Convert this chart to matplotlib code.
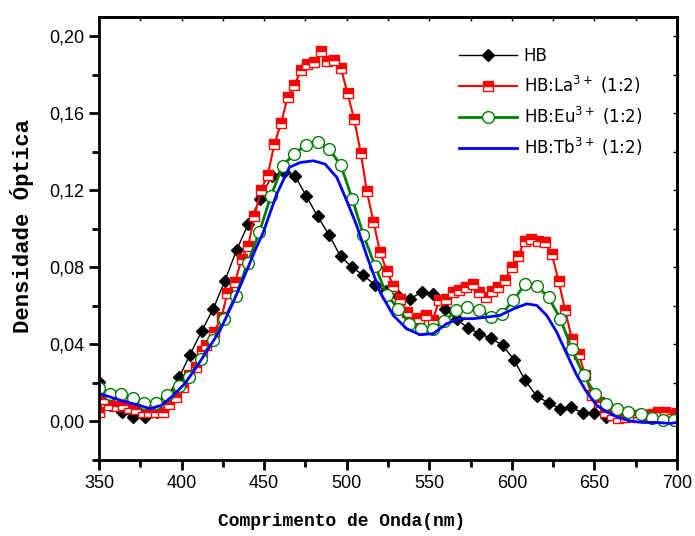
import matplotlib
matplotlib.use("Agg")
from matplotlib import pyplot as plt
from matplotlib.ticker import MultipleLocator, FuncFormatter

# HB (black diamonds)
hb_x = [350, 356.6, 363.7, 370.8, 377.9, 385, 391.4, 398.6, 405.1, 412.1, 419.2, 426.3,
        433.3, 440.4, 447.5, 454.6, 462.2, 468.7, 475.4, 482.4, 489.3, 496.3, 503.4,
        510, 517, 524, 531, 538.4, 545.4, 552.1, 559.6, 566.6, 573.3, 580.2, 587.2,
        594.4, 601.3, 608, 615.1, 622.2, 629.2, 635.9, 643, 650, 657.1]
hb_y = [0.0206, 0.0085, 0.005, 0.0024, 0.0024, 0.005, 0.0128, 0.023, 0.0347, 0.0468,
        0.0585, 0.0732, 0.0890, 0.1026, 0.1155, 0.1276, 0.1297, 0.1276, 0.1173, 0.1065,
        0.0969, 0.0857, 0.080, 0.076, 0.071, 0.068, 0.065, 0.0637, 0.0672, 0.066,
        0.0585, 0.053, 0.0487, 0.0456, 0.0434, 0.0395, 0.0321, 0.0214, 0.0131, 0.0097,
        0.0067, 0.0073, 0.0045, 0.0045, 0.0024]

# HB:La (red half-filled squares)
la_x = [350, 352.6, 356.2, 360.7, 364.5, 368.3, 372.4, 376.4, 380.4, 384.5, 388.5,
        392.6, 396.6, 400.6, 404.7, 408.7, 412.1, 415.1, 419.6, 424.3, 427.7, 432.4,
        436.4, 440.4, 444.1, 448.1, 452.2, 456.2, 460.2, 464.3, 468.3, 472.3, 475.8,
        480.4, 484.5, 488.3, 492.4, 496.4, 500.5, 504.5, 508.6, 512.2, 516.2, 520.2,
        524.2, 528.2, 532.3, 536.3, 540.3, 544, 548, 552.1, 556.1, 560.2, 564.2, 568.3,
        572.3, 576.3, 580.4, 584.4, 588, 591.9, 595.9, 600, 604, 607.7, 611.7, 615.7,
        619.8, 624.2, 628.3, 632.3, 636.3, 640.4, 644.4, 648.4, 652.5, 656.5, 660.5,
        664.5, 668.6, 672.6, 676.6, 680.7, 684.7, 688.7, 692.8, 696.8, 700]
la_y = [0.005, 0.0116, 0.0088, 0.0081, 0.0085, 0.0071, 0.0065, 0.005, 0.005, 0.005,
        0.0047, 0.0093, 0.0128, 0.018, 0.024, 0.0283, 0.0364, 0.0395, 0.0464, 0.0542,
        0.0668, 0.0724, 0.0845, 0.0914, 0.1066, 0.1202, 0.1281, 0.144, 0.1548, 0.1686,
        0.1746, 0.1825, 0.1855, 0.1867, 0.1924, 0.1872, 0.1876, 0.1838, 0.1705, 0.157,
        0.1392, 0.1195, 0.1038, 0.0879, 0.0784, 0.0706, 0.0637, 0.0568, 0.0534, 0.0537,
        0.0551, 0.0528, 0.0629, 0.0637, 0.0672, 0.0684, 0.0698, 0.0715, 0.0672, 0.0646,
        0.068, 0.0701, 0.0736, 0.080, 0.0862, 0.0939, 0.0948, 0.0939, 0.0934, 0.087,
        0.0729, 0.0577, 0.043, 0.0352, 0.024, 0.0136, 0.0102, 0.005, 0.0036, 0.0016,
        0.0024, 0.0033, 0.0024, 0.0033, 0.0041, 0.005, 0.005, 0.0041, 0.0045]

# HB:Eu (green open circles)
eu_x = [350, 356.6, 363.3, 370.4, 377.5, 384.5, 391.4, 398.5, 404.5, 411.8, 418.8,
        425.9, 433, 440, 447.1, 454, 461.2, 468.1, 475.2, 482.4, 489.3, 496.4, 503.4,
        510.1, 517.1, 524.2, 531.3, 538, 545, 552.1, 559.2, 566.3, 573.1, 580.2, 587.3,
        593.9, 601, 608, 615.1, 622.2, 629.3, 636.3, 643.4, 650.4, 657.1, 663.9, 670.6,
        678.3, 685.1, 691.8, 697.9]
eu_y = [0.0175, 0.0141, 0.0141, 0.0123, 0.0097, 0.0097, 0.0136, 0.0183, 0.0232, 0.0326,
        0.0421, 0.0534, 0.0654, 0.0822, 0.0983, 0.1169, 0.1328, 0.1389, 0.1435, 0.1452,
        0.1415, 0.1332, 0.1155, 0.0969, 0.081, 0.0658, 0.0585, 0.0508, 0.0478, 0.0482,
        0.052, 0.0577, 0.0594, 0.058, 0.0542, 0.056, 0.0629, 0.0715, 0.0703, 0.0646,
        0.0534, 0.0378, 0.024, 0.0145, 0.0093, 0.0067, 0.0047, 0.0041, 0.0016, 0.0007,
        0.0007]

# HB:Tb (blue line)
tb_x = [350, 356.6, 364.7, 372.8, 380.9, 387.9, 395, 402, 409.1, 416.2, 423.3, 430.4,
        437.4, 444.5, 449.5, 457.6, 465.3, 471.7, 479.8, 486.9, 494, 500, 506.1, 512.1,
        520.2, 528.2, 536.3, 544.3, 552.4, 560.5, 568.5, 576.6, 584.7, 592.8, 601, 609,
        615.1, 621.1, 627.2, 633.2, 639.3, 645.3, 651.4, 657.5, 663.5, 671.6, 679.7,
        687.8, 695.9, 700]
tb_y = [0.0145, 0.0128, 0.0105, 0.0088, 0.0067, 0.0084, 0.0136, 0.0197, 0.0283, 0.0378,
        0.0473, 0.0603, 0.0741, 0.0888, 0.0983, 0.1181, 0.132, 0.1345, 0.1354, 0.1337,
        0.1268, 0.1147, 0.1017, 0.0862, 0.0672, 0.0551, 0.0482, 0.0451, 0.0456, 0.0508,
        0.0534, 0.0534, 0.0542, 0.0551, 0.0585, 0.0611, 0.0603, 0.0551, 0.0464, 0.0352,
        0.024, 0.0153, 0.0084, 0.005, 0.0024, 0.0002, -0.0005, -0.0005, -0.001, -0.0005]

labels = ["HB", "HB:La$^{3+}$ (1:2)", "HB:Eu$^{3+}$ (1:2)", "HB:Tb$^{3+}$ (1:2)"]

fig = plt.figure(figsize=(6.95, 5.36), dpi=100)
ax = fig.add_axes([0.1424, 0.1418, 0.8317, 0.8262])

ax.plot(hb_x, hb_y, color="black", lw=1, marker="D", ms=6.5, label=labels[0])
ax.plot(la_x, la_y, color="red", lw=1.5, marker="s", ms=6.5, fillstyle="top",
        markerfacecoloralt="white", mec="red", mew=1, label=labels[1])
ax.plot(eu_x, eu_y, color="green", lw=2, marker="o", ms=8.5, mfc="white",
        mec="green", mew=1, label=labels[2])
ax.plot(tb_x, tb_y, color="blue", lw=2, label=labels[3])

ax.set_xlim(350, 700)
ax.set_ylim(-0.02, 0.21)
ax.xaxis.set_major_locator(MultipleLocator(50))
ax.xaxis.set_minor_locator(MultipleLocator(25))
ax.yaxis.set_major_locator(MultipleLocator(0.04))
ax.yaxis.set_minor_locator(MultipleLocator(0.02))
ax.yaxis.set_major_formatter(FuncFormatter(lambda v, p: f"{v:.2f}".replace(".", ",")))

for s in ax.spines.values():
    s.set_linewidth(2)
ax.tick_params(which="major", direction="out", length=7, width=2, labelsize=13)
ax.tick_params(which="minor", direction="out", length=5, width=2)
for lab in ax.get_xticklabels() + ax.get_yticklabels():
    lab.set_family("Liberation Sans")

# small inward ticks on the top and right frame
top = ax.secondary_xaxis("top")
top.xaxis.set_major_locator(MultipleLocator(25))
top.tick_params(direction="in", length=3, width=1, labeltop=False)
right = ax.secondary_yaxis("right")
right.yaxis.set_major_locator(MultipleLocator(0.02))
right.tick_params(direction="in", length=3, width=1, labelright=False)
top.spines["top"].set_linewidth(2)
right.spines["right"].set_linewidth(2)

ax.set_xlabel("Comprimento de Onda(nm)", family="Liberation Mono", weight="bold",
              fontsize=13)
ax.xaxis.set_label_coords(0.419, -0.12)
ax.set_ylabel("Densidade Óptica", family="Liberation Mono", weight="bold",
              fontsize=16)
ax.yaxis.set_label_coords(-0.112, 0.528)

ax.legend(loc="upper right", frameon=False, fontsize=12, handlelength=3.5,
          handletextpad=0.4, borderaxespad=0.3, labelspacing=0.55,
          bbox_to_anchor=(0.96, 0.96))

fig.savefig("out.png", dpi=100)
